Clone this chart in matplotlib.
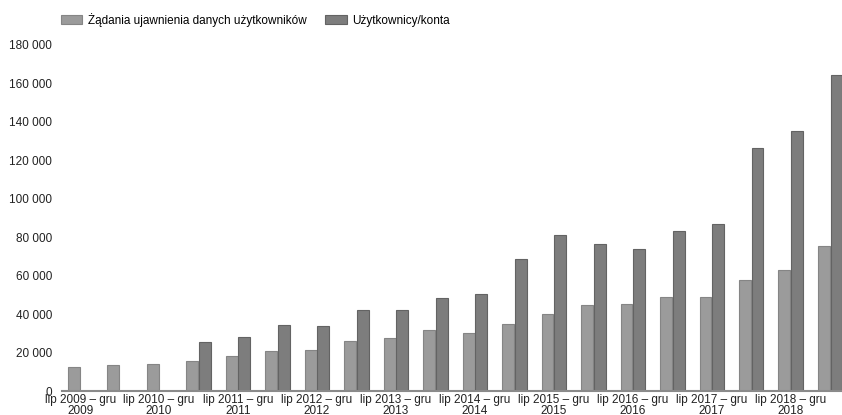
import numpy as np
import matplotlib.pyplot as plt

plt.rcParams['font.family'] = ['Liberation Sans', 'DejaVu Sans']

# half-year periods, lip 2009 - gru 2009 ... sty 2019 - cze 2019
periods = ['lip 2009 – gru\n2009', 'sty 2010 – cze\n2010', 'lip 2010 – gru\n2010', 'sty 2011 – cze\n2011',
           'lip 2011 – gru\n2011', 'sty 2012 – cze\n2012', 'lip 2012 – gru\n2012', 'sty 2013 – cze\n2013',
           'lip 2013 – gru\n2013', 'sty 2014 – cze\n2014', 'lip 2014 – gru\n2014', 'sty 2015 – cze\n2015',
           'lip 2015 – gru\n2015', 'sty 2016 – cze\n2016', 'lip 2016 – gru\n2016', 'sty 2017 – cze\n2017',
           'lip 2017 – gru\n2017', 'sty 2018 – cze\n2018', 'lip 2018 – gru\n2018', 'sty 2019 – cze\n2019']
requests = [12500, 13500, 14200, 15800, 18300, 21000, 21400, 25900, 27500, 31700,
            30100, 34800, 40000, 44700, 45500, 48900, 48900, 57700, 62900, 75400]
accounts = [0, 0, 0, 25400, 28100, 34300, 33700, 42100, 42100, 48400,
            50400, 68600, 81100, 76400, 73700, 83200, 87000, 126400, 135400, 164200]

fig = plt.figure(figsize=(8.42, 4.15), dpi=100)
ax = fig.add_axes([62/842, 1-391/415, 780/842, 346/415])

x = np.arange(len(periods))
w = 0.3
ax.bar(x - w/2 - 0.01, requests, w, color='#9b9b9b', edgecolor='#858585', linewidth=0.8,
       label='Żądania ujawnienia danych użytkowników')
ax.bar(x + w/2 + 0.01, accounts, w, color='#7d7d7d', edgecolor='#636363', linewidth=0.8,
       label='Użytkownicy/konta')

ax.set_xlim(-0.46, 19.3)
ax.set_ylim(0, 180000)
ax.set_yticks(np.arange(0, 180001, 20000))
ax.set_yticklabels([f'{v:,}'.replace(',', ' ') for v in range(0, 180001, 20000)])
ax.set_xticks(x[::2])
ax.set_xticklabels(periods[::2], linespacing=0.95)

for s in ['top', 'right', 'left']:
    ax.spines[s].set_visible(False)
ax.spines['bottom'].set_color('#8a8a8a')
ax.spines['bottom'].set_linewidth(1.5)
ax.tick_params(axis='both', length=0, labelsize=8.5, colors='#222222')
ax.tick_params(axis='y', pad=7)
ax.tick_params(axis='x', pad=2)

fig.legend(loc='upper left', bbox_to_anchor=(50/842, 0.995), ncol=2, frameon=False,
           fontsize=8.5, handlelength=1.8, handleheight=0.7, columnspacing=1.6,
           handletextpad=0.5)

fig.savefig('out.png', dpi=100)
